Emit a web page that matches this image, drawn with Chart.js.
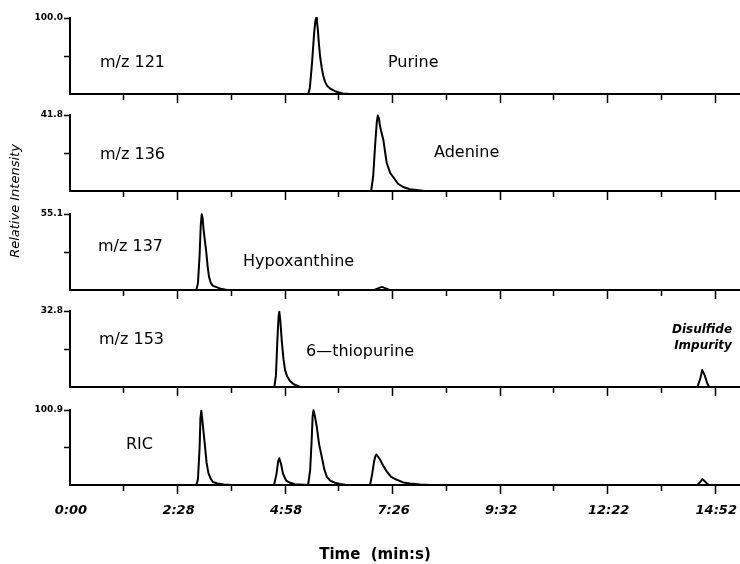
<!DOCTYPE html>
<html>
<head>
<meta charset="utf-8">
<script src="https://cdn.jsdelivr.net/npm/chart.js@4.4.1/dist/chart.umd.min.js"></script>
<style>
  html, body { margin: 0; padding: 0; background: #fff; }
  #wrap { position: relative; width: 740px; height: 564px; overflow: hidden; }
  #wrap canvas { position: absolute; left: 0; }
  #ytitle {
    position: absolute; left: -55px; top: 193px; width: 140px; height: 16px;
    line-height: 16px; text-align: center; transform: rotate(-90deg);
    font: italic 13px "DejaVu Sans", sans-serif; color: #000; white-space: nowrap;
  }
</style>
</head>
<body>
<div id="wrap">
  <canvas id="p1" width="740" height="98" style="top:8px"></canvas>
  <canvas id="p2" width="740" height="98" style="top:105px"></canvas>
  <canvas id="p3" width="740" height="98" style="top:204px"></canvas>
  <canvas id="p4" width="740" height="98" style="top:301px"></canvas>
  <canvas id="p5" width="740" height="164" style="top:400px"></canvas>
  <div id="ytitle">Relative Intensity</div>
</div>
<script>
// time axis runs in scan numbers, labelled with retention time every 100 scans
var timeLabels = ['0:00', '2:28', '4:58', '7:26', '9:32', '12:22', '14:52'];
var scanMax = 623;

var panelNames = ['m/z 121', 'm/z 136', 'm/z 137', 'm/z 153', 'RIC'];
var compoundNames = ['Purine', 'Adenine', 'Hypoxanthine', '6\u2014thiopurine', ''];
var impurityLabel = ['Disulfide', 'Impurity'];
var panelMax = [100.0, 41.8, 55.1, 32.8, 100.9];

var purineScan  = [0, 221.5, 223, 225, 227, 228, 228.8, 229.6, 230.5, 231.5, 232.6, 234, 235.5, 237.2, 239, 242, 246, 250, 254, 260, 623];
var purineValue = [0, 0, 8, 40, 80, 94, 100, 96, 84, 65, 49, 35, 24, 16, 11, 7, 4, 2, 0.8, 0, 0];

var adenineScan  = [0, 280, 281.9, 283.7, 285.3, 286.2, 287.2, 288.2, 289.3, 291.4, 294.5, 297.7, 300.5, 305, 309.8, 316, 330, 623];
var adenineValue = [0, 0, 8, 25, 38, 41.5, 40, 36, 33, 28, 15.4, 10, 7.7, 4, 2.2, 1, 0, 0];

var hypoScan  = [0, 117.5, 119, 120.5, 121.6, 122.5, 123.3, 124.2, 125.5, 126.5, 128, 129.3, 131, 133, 140, 146, 283, 287, 290, 293, 297, 623];
var hypoValue = [0, 0, 5, 25, 47, 55, 52, 44, 35, 29, 17, 9.4, 5, 3, 1, 0, 0, 1.4, 2.3, 1.4, 0, 0];

var thioScan  = [0, 190, 191.5, 193, 193.9, 194.6, 195.5, 196.9, 198.5, 200, 202, 204.6, 208, 214, 583.3, 586, 587.9, 590.2, 592.6, 594.4, 623];
var thioValue = [0, 0, 5, 22, 30, 32.5, 29, 20, 12, 7.3, 4.5, 2.6, 1.2, 0, 0, 3.5, 7.3, 5, 1.5, 0, 0];

var ricScan = [0,
  117.5, 119, 120.5, 121.3, 122.1, 123, 125.6, 127, 128.7, 131, 133, 137, 143, 150,
  189.8, 192, 193.6, 194.6, 196.3, 198.1, 201, 204.7, 209,
  221.4, 223.3, 224.7, 225.6, 226.4, 227.4, 229.5, 231.6, 234.1, 236.3, 238.8, 241.9, 246.5, 251, 255.8,
  279, 280.9, 282.8, 284, 284.9, 286.5, 288.4, 291.2, 294.6, 298.6, 303.9, 309.8, 316.3, 325.6, 335,
  583.3, 586, 587.9, 590.2, 592.6, 594.4, 623];
var ricValue = [0,
  0, 8, 50, 90, 100, 88, 51, 30, 16, 8, 4, 2, 0.8, 0,
  0, 15, 32, 36, 28, 15, 6, 3, 1,
  0, 20, 60, 92, 100.5, 95, 78, 55, 38, 22, 11, 6, 3, 1.5, 0.5,
  0, 14, 32, 39, 41, 38, 34, 26, 18, 11, 7, 3.5, 2, 0.7, 0,
  0, 4, 8, 5, 1.5, 0, 0];

var scans = [purineScan, adenineScan, hypoScan, thioScan, ricScan];
var values = [purineValue, adenineValue, hypoValue, thioValue, ricValue];

var xTicks = [];
for (var s = 0; s <= 600; s += 50) xTicks.push(s);

// draws the free text of each panel, offsets are from the chart area corner
var panelText = {
  id: 'panelText',
  afterDraw: function (chart, args, opts) {
    var ctx = chart.ctx, area = chart.chartArea;
    (opts.items || []).forEach(function (it) {
      ctx.save();
      ctx.font = it.font;
      ctx.fillStyle = '#000';
      ctx.textAlign = it.align || 'left';
      ctx.textBaseline = 'middle';
      ctx.fillText(it.text, area.left + it.dx, area.top + it.dy);
      ctx.restore();
    });
  }
};

var nameFont = '16px "DejaVu Sans", sans-serif';
var smallFont = 'italic bold 12px "DejaVu Sans", sans-serif';
var textItems = [
  [{ text: panelNames[0], dx: 30, dy: 45, font: nameFont },
   { text: compoundNames[0], dx: 318, dy: 45, font: nameFont }],
  [{ text: panelNames[1], dx: 30, dy: 40, font: nameFont },
   { text: compoundNames[1], dx: 364, dy: 38, font: nameFont }],
  [{ text: panelNames[2], dx: 28, dy: 33, font: nameFont },
   { text: compoundNames[2], dx: 173, dy: 48, font: nameFont }],
  [{ text: panelNames[3], dx: 29, dy: 29, font: nameFont },
   { text: compoundNames[3], dx: 236, dy: 41, font: nameFont },
   { text: impurityLabel[0], dx: 632, dy: 19, font: smallFont, align: 'center' },
   { text: impurityLabel[1], dx: 633, dy: 35, font: smallFont, align: 'center' }],
  [{ text: panelNames[4], dx: 56, dy: 35, font: nameFont },
   { text: 'Time  (min:s)', dx: 305, dy: 145, font: 'bold 15px "DejaVu Sans", sans-serif', align: 'center' }]
];

function makePanel(i) {
  var isBottom = i === 4;
  var max = panelMax[i];
  var pts = scans[i].map(function (x, k) { return { x: x, y: values[i][k] }; });
  return new Chart(document.getElementById('p' + (i + 1)), {
    type: 'line',
    data: {
      datasets: [{
        data: pts,
        borderColor: '#000',
        borderWidth: 2,
        borderJoinStyle: 'round',
        pointRadius: 0,
        tension: 0,
        fill: false,
        clip: 8
      }]
    },
    options: {
      responsive: false,
      animation: false,
      layout: { padding: { top: 10, left: 0, right: 0, bottom: 0 } },
      plugins: {
        legend: { display: false },
        tooltip: { enabled: false },
        panelText: { items: textItems[i] }
      },
      scales: {
        x: {
          type: 'linear',
          min: 0,
          max: scanMax,
          afterBuildTicks: function (scale) {
            scale.ticks = xTicks.map(function (v) { return { value: v }; });
          },
          afterFit: function (scale) {
            scale.height = isBottom ? 79 : 12;
            scale.paddingLeft = 0;
            scale.paddingRight = 0;
          },
          border: { color: '#000', width: 2 },
          grid: {
            drawOnChartArea: false,
            drawTicks: true,
            tickLength: 9,
            tickWidth: 1.5,
            tickColor: function (c) {
              return c.tick && c.tick.value === 0 ? 'rgba(0,0,0,0)' : '#000';
            },
            tickBorderDash: function (c) {
              return c.tick && c.tick.value % 100 ? [5, 20] : [];
            }
          },
          ticks: {
            display: isBottom,
            autoSkip: false,
            maxRotation: 0,
            padding: 9,
            labelOffset: 1,
            color: '#000',
            font: { family: 'DejaVu Sans', size: 13, weight: 'bold', style: 'italic' },
            callback: function (v) { return v % 100 === 0 ? timeLabels[v / 100] : ''; }
          }
        },
        y: {
          min: 0,
          max: max,
          afterBuildTicks: function (scale) {
            scale.ticks = [{ value: max / 2 }, { value: max }];
          },
          afterFit: function (scale) { scale.width = 70; },
          border: { color: '#000', width: 2 },
          grid: { drawOnChartArea: false, tickLength: 6, tickWidth: 1.5, tickColor: '#000' },
          ticks: {
            padding: 1,
            color: '#000',
            font: { family: 'DejaVu Sans', size: 9, weight: 'bold' },
            callback: function (v) { return v === max ? max.toFixed(1) : ''; }
          }
        }
      }
    },
    plugins: [panelText]
  });
}

for (var i = 0; i < 5; i++) makePanel(i);
</script>
</body>
</html>
